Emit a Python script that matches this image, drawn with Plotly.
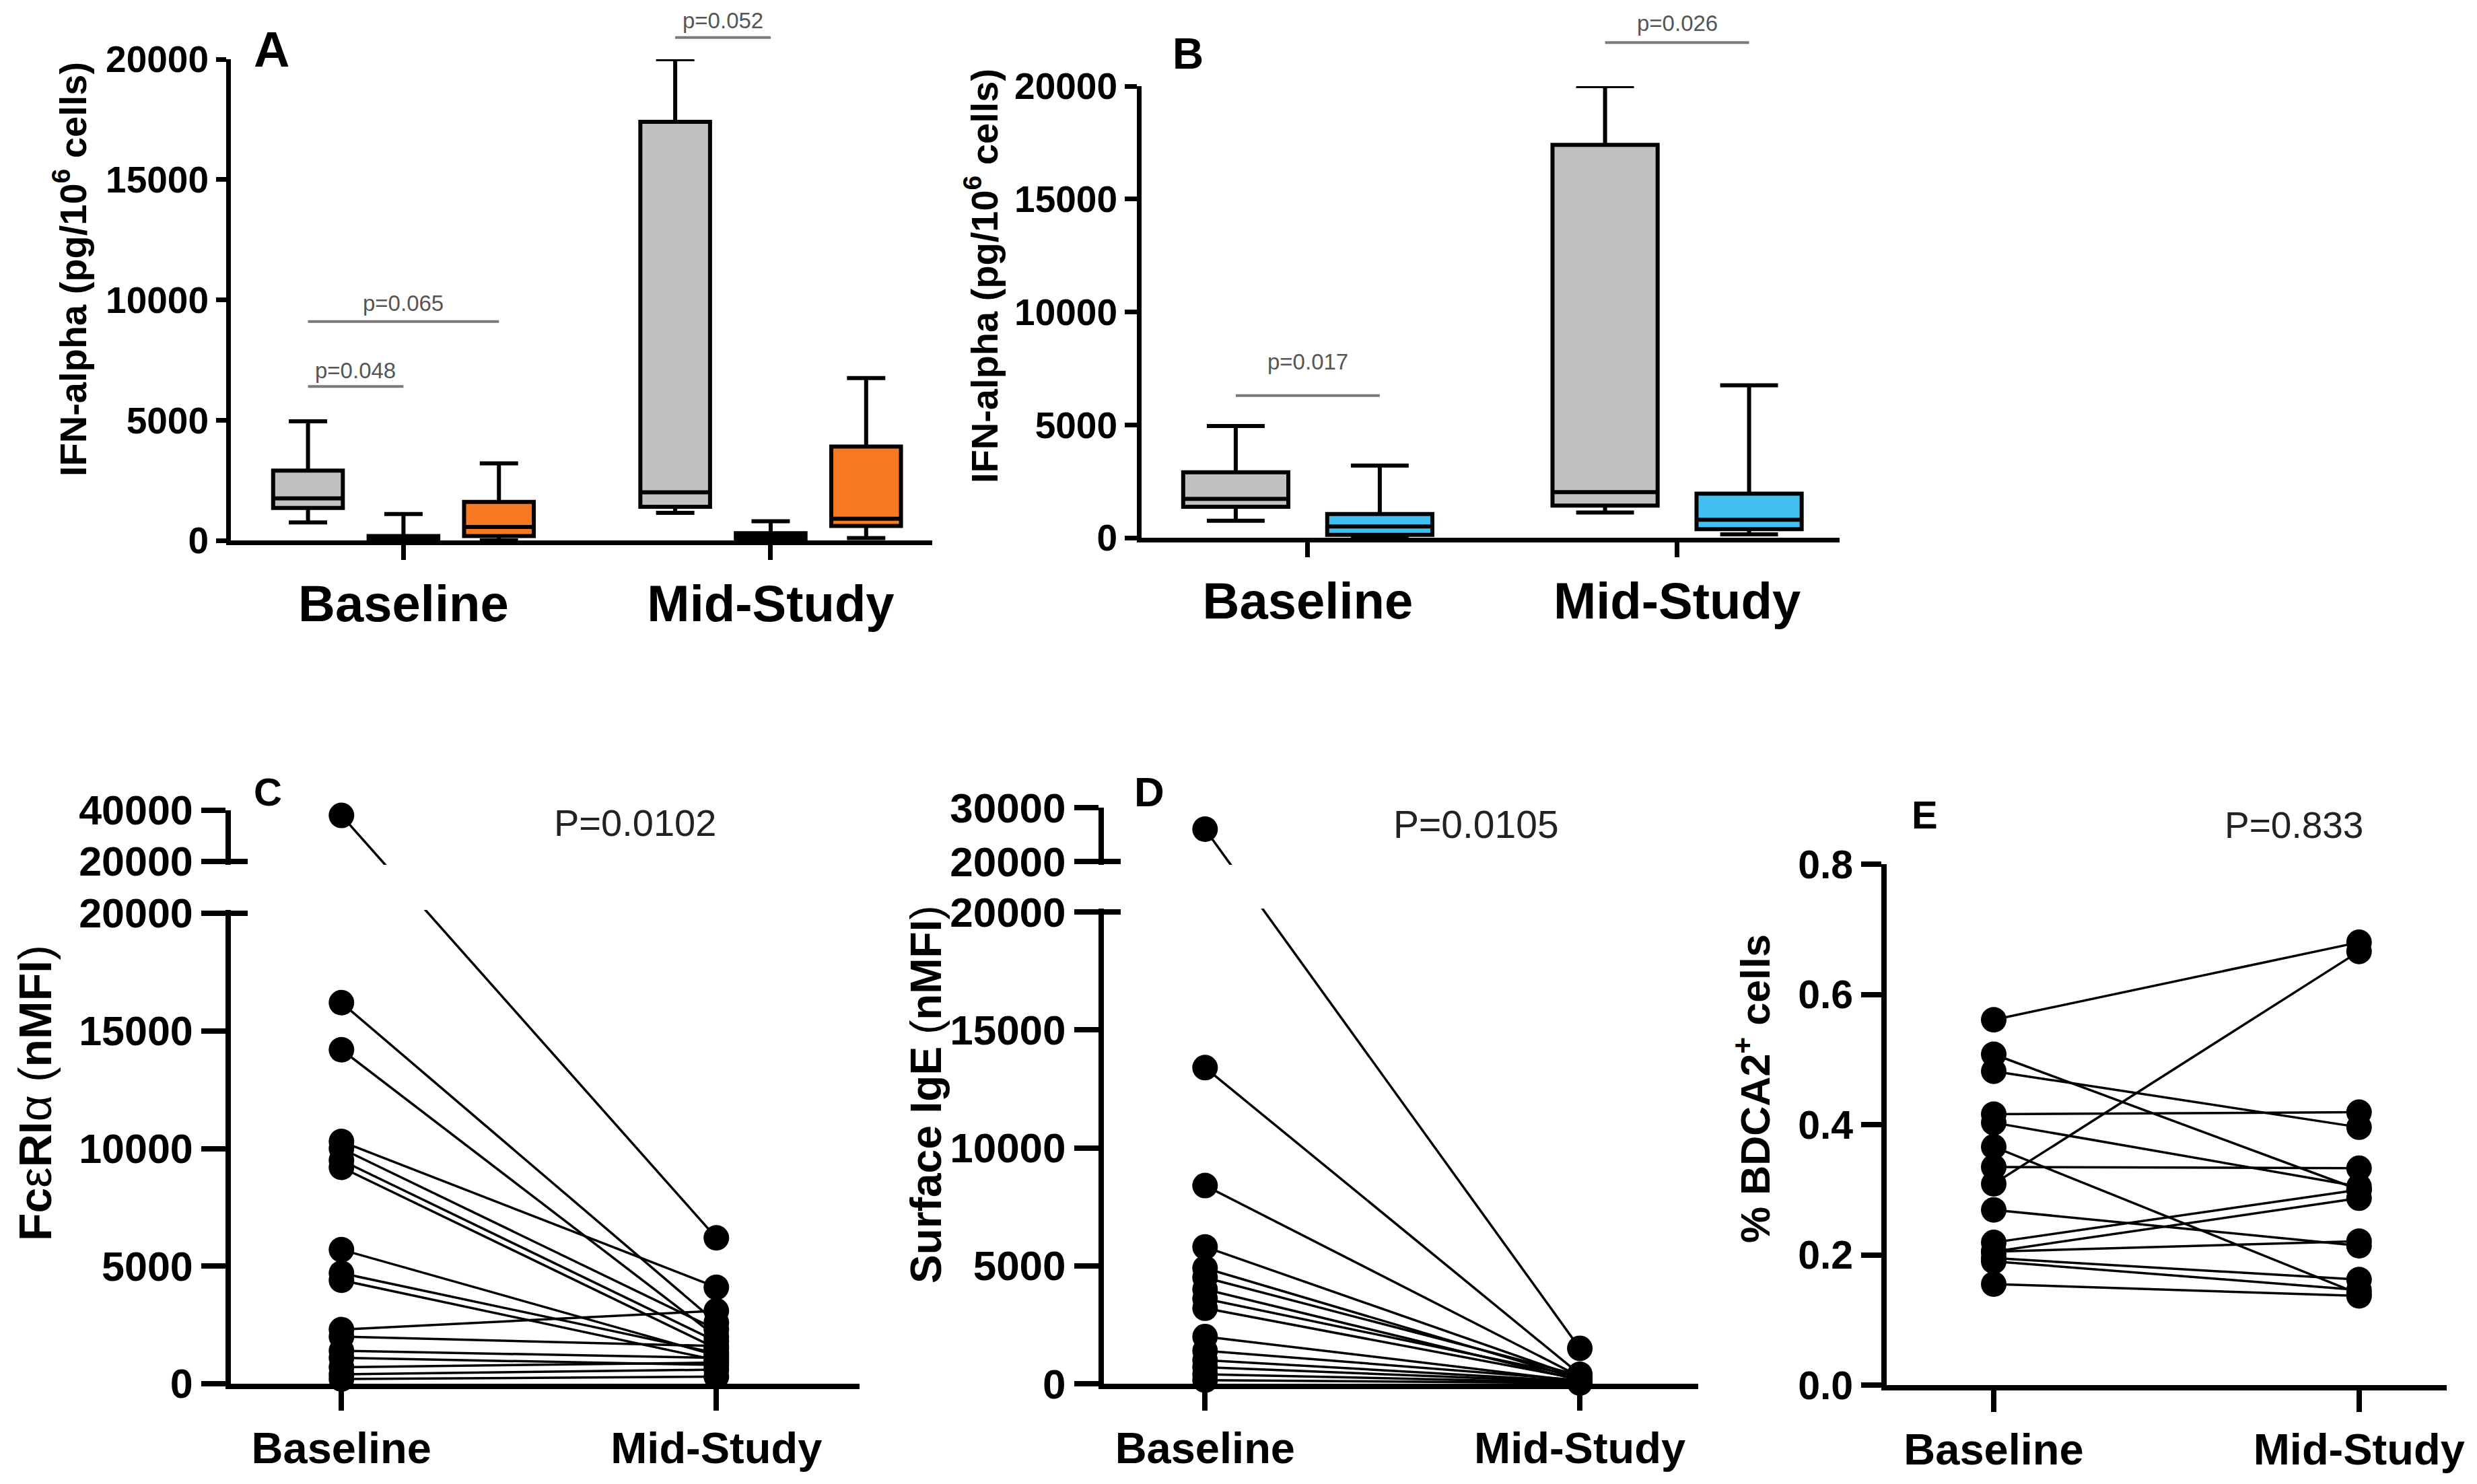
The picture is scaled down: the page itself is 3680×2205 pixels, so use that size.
import plotly.graph_objects as go

W, H = 3680, 2205
PAGE_OFFSET = 8  # default body margin of the written html page
FONT = "Liberation Sans, Arial, Helvetica, sans-serif"

# ---------------- data ----------------
categories = ["Baseline", "Mid-Study"]

# Panel A: box statistics per category (IFN-alpha, pg/10^6 cells)
a_gray_lower = [750, 1150]
a_gray_q1 = [1350, 1400]
a_gray_median = [1750, 2000]
a_gray_q3 = [2900, 17400]
a_gray_upper = [4950, 20000]

a_white_lower = [0, 0]
a_white_q1 = [30, 80]
a_white_median = [80, 180]
a_white_q3 = [180, 300]
a_white_upper = [1100, 800]

a_orange_lower = [0, 100]
a_orange_q1 = [180, 600]
a_orange_median = [560, 900]
a_orange_q3 = [1600, 3900]
a_orange_upper = [3200, 6750]

# Panel B
b_gray_lower = [750, 1120]
b_gray_q1 = [1370, 1420]
b_gray_median = [1720, 2020]
b_gray_q3 = [2900, 17400]
b_gray_upper = [4950, 20000]

b_blue_lower = [0, 150]
b_blue_q1 = [130, 380]
b_blue_median = [500, 800]
b_blue_q3 = [1050, 1950]
b_blue_upper = [3200, 6750]

# significance labels
a_sig_labels = ["p=0.048", "p=0.065", "p=0.052"]
b_sig_labels = ["p=0.017", "p=0.026"]

# Panel C: FceRIa (nMFI), paired
c_baseline = [38000, 16200, 14200, 10300, 10000, 9500, 9200, 5700, 4700, 4400,
              2300, 2000, 1400, 1100, 700, 400, 200]
c_mid = [6200, 2600, 2000, 4100, 2300, 1800, 1500, 1200, 1300, 1000,
         3100, 1600, 1100, 800, 900, 600, 300]

# Panel D: Surface IgE (nMFI), paired
d_baseline = [26000, 13400, 8400, 5800, 4900, 4500, 4000, 3600, 3200, 2000,
              1400, 1000, 700, 400, 150]
d_mid = [1500, 400, 300, 250, 200, 350, 150, 300, 200, 100,
         150, 100, 80, 50, 30]

# Panel E: % BDCA2+ cells, paired
e_baseline = [0.561, 0.309, 0.508, 0.482, 0.416, 0.403, 0.366, 0.335, 0.269,
              0.219, 0.205, 0.205, 0.195, 0.190, 0.155]
e_mid = [0.680, 0.666, 0.300, 0.396, 0.419, 0.305, 0.140, 0.333, 0.214,
         0.300, 0.287, 0.221, 0.162, 0.146, 0.137]

p_values = {"C": "P=0.0102", "D": "P=0.0105", "E": "P=0.833"}

# ---------------- layout helpers ----------------
def fx(px):
    return (px - PAGE_OFFSET) / W


def fy(py):
    return 1 - (py - PAGE_OFFSET) / H


# panel frames in pixels: left, right, top, bottom
FRAME = {
    "A": (343, 1385, 88, 803),
    "B": (1696, 2733, 128, 799),
    "C": (343, 1277, 1204, 2056),
    "D": (1640, 2523, 1200, 2056),
    "E": (2803, 3635, 1284, 2058),
}
XRANGE = {
    "A": [-0.47, 1.44],
    "B": [-0.45, 1.44],
    "C": [-0.295, 1.382],
    "D": [-0.27, 1.316],
    "E": [-0.293, 1.24],
}
AX = {"A": ("x", "y"), "B": ("x2", "y2"), "C": ("x3", "y3"),
      "D": ("x4", "y4"), "E": ("x5", "y5")}

BOXGAP = 0.22
BOXGROUPGAP = 0.27


class BrokenScale:
    """Piecewise-linear scale for an axis with a break (like Prism)."""

    def __init__(self, split, top, low_px, gap_px, up_px):
        self.split = split
        self.top = top
        self.gap = gap_px / low_px * split
        self.k = up_px / low_px * split / (top - split)

    def __call__(self, v):
        if v <= self.split:
            return v
        return self.split + self.gap + (v - self.split) * self.k

    @property
    def upper_start(self):
        return self.split + self.gap

    @property
    def dmax(self):
        return self(self.top)


scale_c = BrokenScale(20000, 40000, 699, 77, 76)
scale_d = BrokenScale(20000, 30000, 701, 75, 80)

fig = go.Figure()

# ---------------- box panels ----------------
def add_box(name, color, ax, group, slot, lower, q1, med, q3, upper):
    fig.add_trace(go.Box(
        x=categories, q1=q1, median=med, q3=q3,
        lowerfence=lower, upperfence=upper,
        name=name, fillcolor=color,
        line=dict(color="black", width=6),
        whiskerwidth=0.55, boxpoints=False,
        alignmentgroup=group, offsetgroup=group + str(slot),
        xaxis=ax[0], yaxis=ax[1], showlegend=False, hoverinfo="skip",
    ))


add_box("group 1", "#c2c0c1", AX["A"], "A", 0, a_gray_lower, a_gray_q1, a_gray_median, a_gray_q3, a_gray_upper)
add_box("group 2", "#ffffff", AX["A"], "A", 1, a_white_lower, a_white_q1, a_white_median, a_white_q3, a_white_upper)
add_box("group 3", "#f77a22", AX["A"], "A", 2, a_orange_lower, a_orange_q1, a_orange_median, a_orange_q3, a_orange_upper)
add_box("group 1", "#c2c0c1", AX["B"], "B", 0, b_gray_lower, b_gray_q1, b_gray_median, b_gray_q3, b_gray_upper)
add_box("group 4", "#41bff1", AX["B"], "B", 1, b_blue_lower, b_blue_q1, b_blue_median, b_blue_q3, b_blue_upper)

# ---------------- paired panels ----------------
def add_pairs(ax, base, mid, f=lambda v: v):
    xs, ys = [], []
    for b, m in zip(base, mid):
        xs += [categories[0], categories[1], None]
        ys += [f(b), f(m), None]
    fig.add_trace(go.Scatter(
        x=xs, y=ys, mode="lines+markers",
        line=dict(color="black", width=3.5),
        marker=dict(color="black", size=38),
        cliponaxis=False, connectgaps=False,
        xaxis=ax[0], yaxis=ax[1], showlegend=False, hoverinfo="skip",
    ))


add_pairs(AX["C"], c_baseline, c_mid, scale_c)
add_pairs(AX["D"], d_baseline, d_mid, scale_d)
add_pairs(AX["E"], e_baseline, e_mid)

# ---------------- axes ----------------
layout = dict(
    template="none",
    width=W, height=H, margin=dict(l=0, r=0, t=0, b=0, pad=0, autoexpand=False),
    paper_bgcolor="white", plot_bgcolor="rgba(0,0,0,0)",
    boxmode="group", boxgap=BOXGAP, boxgroupgap=BOXGROUPGAP,
    font=dict(family=FONT, color="black"),
    showlegend=False,
)

X_STYLE = {
    "A": dict(lw=7, ticklen=22, fsize=76, standoff=0),
    "B": dict(lw=7, ticklen=22, fsize=76, standoff=0),
    "C": dict(lw=8, ticklen=32, fsize=65, standoff=0),
    "D": dict(lw=8, ticklen=32, fsize=65, standoff=0),
    "E": dict(lw=8, ticklen=32, fsize=65, standoff=0),
}

Y_TICKS = {
    "A": ([0, 5000, 10000, 15000, 20000], ["0", "5000", "10000", "15000", "20000"], [0, 20000]),
    "B": ([0, 5000, 10000, 15000, 20000], ["0", "5000", "10000", "15000", "20000"], [0, 20000]),
    "C": ([0, 5000, 10000, 15000, 20000, scale_c.upper_start, scale_c.dmax],
          ["0", "5000", "10000", "15000", "20000", "20000", "40000"], [0, scale_c.dmax]),
    "D": ([0, 5000, 10000, 15000, 20000, scale_d.upper_start, scale_d.dmax],
          ["0", "5000", "10000", "15000", "20000", "20000", "30000"], [0, scale_d.dmax]),
    "E": ([0, 0.2, 0.4, 0.6, 0.8], ["0.0", "0.2", "0.4", "0.6", "0.8"], [0, 0.8]),
}
Y_STYLE = {
    "A": dict(lw=7, ticklen=15, fsize=55),
    "B": dict(lw=7, ticklen=18, fsize=55),
    "C": dict(lw=8, ticklen=36, fsize=61),
    "D": dict(lw=8, ticklen=36, fsize=62),
    "E": dict(lw=8, ticklen=30, fsize=59),
}

for key, (xa, ya) in AX.items():
    left, right, top, bottom = FRAME[key]
    xs = X_STYLE[key]
    ys = Y_STYLE[key]
    xname = "xaxis" + xa[1:]
    yname = "yaxis" + ya[1:]
    layout[xname] = dict(
        domain=[fx(left), fx(right)], anchor=ya, type="category",
        categoryorder="array", categoryarray=categories,
        range=XRANGE[key], showline=True, linewidth=xs["lw"], linecolor="black",
        ticks="outside", ticklen=xs["ticklen"], tickwidth=xs["lw"], tickcolor="black",
        showgrid=False, zeroline=False, fixedrange=True, automargin=False,
        ticklabelstandoff=xs["standoff"],
        tickfont=dict(family=FONT, size=xs["fsize"], color="black", weight="bold"),
    )
    tv, tt, rng = Y_TICKS[key]
    layout[yname] = dict(
        domain=[fy(bottom), fy(top)], anchor=xa, range=rng,
        tickmode="array", tickvals=tv, ticktext=tt,
        showline=True, linewidth=ys["lw"], linecolor="black",
        ticks="outside", ticklen=ys["ticklen"], tickwidth=ys["lw"], tickcolor="black",
        showgrid=False, zeroline=False, fixedrange=True, automargin=False,
        tickfont=dict(family=FONT, size=ys["fsize"], color="black", weight="bold"),
    )

fig.update_layout(**layout)

# ---------------- annotations ----------------
ann = []
shapes = []

# panel letters
LETTERS = {"A": (375, 74, 74), "B": (1740, 80, 64), "C": (375, 1176, 58),
           "D": (1683, 1176, 62), "E": (2838, 1210, 58)}
for k, (px, py, s) in LETTERS.items():
    ann.append(dict(text=f"<b>{k}</b>", x=fx(px), y=fy(py), xref="paper", yref="paper",
                    xanchor="left", yanchor="middle", showarrow=False,
                    font=dict(family=FONT, size=s, color="black")))

# y axis titles
YTITLES = {
    "A": ("<b>IFN-alpha (pg/10<sup>6</sup> cells)</b>", 104, 400, 56),
    "B": ("<b>IFN-alpha (pg/10<sup>6</sup> cells)</b>", 1458, 410, 56),
    "C": ("<b>Fc</b>ε<b>RI</b>α (<b>nMFI</b>)", 52, 1624, 68),
    "D": ("<b>Surface IgE</b> (<b>nMFI</b>)", 1376, 1626, 64),
    "E": ("<b>% BDCA2<sup>+</sup> cells</b>", 2603, 1618, 61),
}
for k, (t, px, py, s) in YTITLES.items():
    ann.append(dict(text=t, x=fx(px), y=fy(py), xref="paper", yref="paper",
                    xanchor="center", yanchor="middle", textangle=-90, showarrow=False,
                    font=dict(family=FONT, size=s, color="black")))

# P values for paired panels
PPOS = {"C": (943, 1222, 56), "D": (2193, 1225, 57), "E": (3408, 1226, 55)}
for k, (px, py, s) in PPOS.items():
    ann.append(dict(text=p_values[k], x=fx(px), y=fy(py), xref="paper", yref="paper",
                    xanchor="center", yanchor="middle", showarrow=False,
                    font=dict(family=FONT, size=s, color="#222222")))

# significance bars for box panels (group offsets follow the box grouping)
slot_a = (1 - BOXGAP) / 3
off_a = [-slot_a, 0.0, slot_a]
slot_b = (1 - BOXGAP) / 2
off_b = [-slot_b / 2, slot_b / 2]
SIG = [
    # axis key, label, category index, from group, to group, bar level, text level
    ("A", a_sig_labels[0], 0, 0, 1, 6400, 7050, off_a),
    ("A", a_sig_labels[1], 0, 0, 2, 9100, 9870, off_a),
    ("A", a_sig_labels[2], 1, 0, 1, 20900, 21600, off_a),
    ("B", b_sig_labels[0], 0, 0, 1, 6300, 7800, off_b),
    ("B", b_sig_labels[1], 1, 0, 1, 21930, 22800, off_b),
]
for key, lab, ci, g0, g1, ybar, ytxt, offs in SIG:
    xa, ya = AX[key]
    ymax = Y_TICKS[key][2][1]
    x0 = ci + offs[g0]
    x1 = ci + offs[g1]
    shapes.append(dict(type="line", xref=xa, yref=ya + " domain", x0=x0, x1=x1,
                       y0=ybar / ymax, y1=ybar / ymax,
                       line=dict(color="#7a7a7a", width=4)))
    ann.append(dict(text=lab, x=(x0 + x1) / 2, y=ytxt / ymax, xref=xa, yref=ya + " domain",
                    xanchor="center", yanchor="middle", showarrow=False,
                    font=dict(family=FONT, size=33, color="#555555")))

# axis breaks for C and D
for key, sc, lowpx in (("C", scale_c, 699), ("D", scale_d, 701)):
    xa, ya = AX[key]
    left, right, top, bottom = FRAME[key]
    eps = 5 / lowpx * sc.split
    shapes.append(dict(type="rect", xref="paper", yref=ya,
                       x0=fx(left - 12), x1=fx(right + 10),
                       y0=sc.split + eps, y1=sc.upper_start - eps,
                       fillcolor="white", line=dict(width=0), layer="above"))
    for yv in (sc.split, sc.upper_start):
        shapes.append(dict(type="line", xref="paper", yref=ya,
                           x0=fx(left - 4), x1=fx(left + 25), y0=yv, y1=yv,
                           line=dict(color="black", width=8), layer="above"))

fig.update_layout(annotations=ann, shapes=shapes)

fig.write_html("out.html")
